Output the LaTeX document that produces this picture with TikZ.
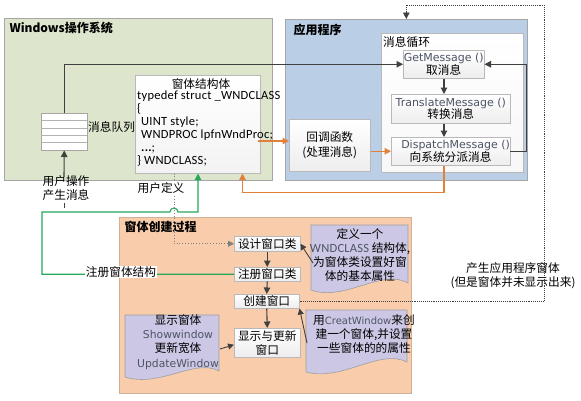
\documentclass[tikz,border=0pt]{standalone}
\usepackage{fontspec}
\setmainfont{Noto Sans CJK SC}
\newfontfamily\latf{DejaVu Sans}
\newfontfamily\calf[LetterSpace=2]{Carlito}
\usetikzlibrary{arrows.meta}
\definecolor{wingreen}{RGB}{221,229,205}
\definecolor{appblue}{RGB}{186,206,229}
\definecolor{creorange}{RGB}{249,205,172}
\definecolor{calloutc}{RGB}{203,199,228}
\definecolor{arrgray}{RGB}{64,64,64}
\definecolor{orangeln}{RGB}{226,128,58}
\definecolor{greenln}{RGB}{38,168,90}
\definecolor{latc}{RGB}{78,84,102}
\newcommand\latword[2][11]{{\latf\fontsize{#1}{12}\selectfont\color{latc}#2}}
\newcommand\calword[1]{{\calf\fontsize{12.5}{13}\selectfont\color{latc}#1}}
\tikzset{
  panel/.style={draw=gray!70, line width=0.6pt, anchor=north west, inner sep=0pt},
  gradbox/.style={draw=gray!55, line width=0.5pt, top color=white, bottom color=gray!14, anchor=north west, inner sep=0pt, align=center},
  whitebox/.style={draw=gray!55, line width=0.5pt, fill=white, anchor=north west, inner sep=0pt},
  darr/.style={draw=arrgray, line width=1.1pt, -{Triangle[length=6.5pt,width=6.5pt]}},
  carr/.style={draw=arrgray, line width=0.9pt, -{Triangle[length=6pt,width=6pt]}},
  oarr/.style={draw=orangeln, line width=1.1pt, -{Triangle[length=6.5pt,width=6.5pt]}},
  garr/.style={draw=greenln, line width=1.1pt, -{Triangle[length=6.5pt,width=6.5pt]}},
  dotarr/.style={draw=gray, line width=0.8pt, dotted, -{Triangle[length=6pt,width=6pt]}},
  bigdot/.style={draw=arrgray, line width=0.9pt, densely dotted, -{Triangle[length=6.5pt,width=6.5pt]}},
  docst/.style={draw=gray!75, line width=0.6pt, fill=calloutc},
  title/.style={anchor=west, font=\fontsize{12}{14}\selectfont\bfseries},
}
\begin{document}
\begin{tikzpicture}[x=1pt,y=-1pt, font=\fontsize{11.7}{14.2}\selectfont]
\path[use as bounding box, fill=white] (0,0) rectangle (581,400);

% panels
\node[panel, fill=wingreen, minimum width=268, minimum height=162] (winpanel) at (4,18) {};
\node[panel, fill=appblue, minimum width=242, minimum height=161] (apppanel) at (285,19) {};
\node[panel, draw=orange!35!gray!60, fill=creorange, minimum width=292, minimum height=176] (crepanel) at (119,217) {};

\node[title] (wintitle) at (6,28) {Windows操作系统};
\node[title] (apptitle) at (290,30) {应用程序};
\node[title] (cretitle) at (121,227) {窗体创建过程};

% message loop
\node[whitebox, top color=white, bottom color=gray!6, minimum width=142, minimum height=139] (loop) at (381,33) {};
\node[anchor=west, inner sep=0pt] (looptitle) at (383,42) {消息循环};
\node[gradbox, minimum width=81, minimum height=28] (get) at (403,50) {\latword{GetMessage ()}\\[-2pt]取消息};
\node[gradbox, minimum width=119, minimum height=29] (trans) at (391,94) {\latword{TranslateMessage ()}\\[-2pt]转换消息};
\node[gradbox, minimum width=104, minimum height=28] (dispatch) at (391,137) {\hspace*{10pt}\latword{DispatchMessage ()}\\[-2pt]向系统分派消息};
\node[gradbox, minimum width=81, minimum height=52] (callback) at (289,119) {回调函数\\(处理消息)};

% struct
\node[gradbox, top color=white, bottom color=gray!10, minimum width=125, minimum height=98] (struct) at (135,75) {};
\node[inner sep=0pt] (structtitle) at (201,84) {窗体结构体};
\node[anchor=north west, inner sep=0pt, align=left, font=\calf\fontsize{12.5}{13}\selectfont] (structbody) at (137,91)
  {typedef struct \_WNDCLASS\\\{\\\hspace*{4pt}UINT style;\\\hspace*{4pt}WNDPROC lpfnWndProc;\\\hspace*{4pt}{\bfseries ...};\\\} WNDCLASS;};

% queue
\node[whitebox, draw=gray!70, minimum width=46, minimum height=37] (queue) at (41,113) {};
\foreach \yy in {120.4,127.8,135.2,142.6} \draw[gray!60, line width=0.5pt] (41,\yy) -- (87,\yy);
\node[anchor=west, inner sep=0pt] (queuelabel) at (88,127) {消息队列};
\node[align=center, inner sep=0pt] (userop) at (66,188) {用户操作\\产生消息};
\draw[arrgray, line width=0.8pt] (64,203) -- (64,208);
\coordinate (uopstart) at (64,177);

% creation steps
\node[gradbox, minimum width=66, minimum height=15] (design) at (234,236) {设计窗口类};
\node[gradbox, minimum width=66, minimum height=14] (reg) at (234,267) {注册窗口类};
\node[gradbox, minimum width=65, minimum height=14] (create) at (234,294) {创建窗口};
\node[gradbox, minimum width=66, minimum height=29] (show) at (234,328) {显示与更新\\窗口};

% callouts
\draw[docst] (311,225) -- (408,225) -- (408,283) .. controls (382,268) and (345,302) .. (311,290) -- cycle;
\node[align=center, inner sep=0pt] (doc1t) at (360,255) {定义一个\\\calword{WNDCLASS} 结构体,\\为窗体类设置好窗\\体的基本属性};
\draw[docst] (306,310) -- (407,310) -- (407,362) .. controls (380,348) and (342,382) .. (306,372) -- cycle;
\node[align=center, inner sep=0pt] (doc2t) at (364,334) {用\latword[10]{CreatWindow}来创\\建一个窗体,并设置\\一些窗体的的属性};
\draw[docst] (125,315) -- (219,315) -- (219,371) .. controls (195,358) and (160,388) .. (125,377) -- cycle;
\node[align=center, inner sep=0pt] (doc3t) at (178,342) {显示窗体\\\latword[10.8]{Showwindow}\\更新宽体\\\latword[10.8]{UpdateWindow}};

\coordinate (c1) at (313,263);
\coordinate (c2) at (307,343);
\coordinate (c3) at (220,349);

% connectors
\draw[darr] (queue.north) |- (get.west);
\draw[darr] (uopstart) -- (queue.south);
\draw[darr] (get.south -| 444,0) -- (trans.north -| 444,0);
\draw[darr] (trans.south -| 444,0) -- (dispatch.north -| 444,0);
\draw[darr] (dispatch.east) -- ++(16,0) |- (get.east);

\coordinate (lpfn) at (258,141);
\draw[oarr] (lpfn) -- (lpfn -| callback.west);
\draw[oarr] (callback.east |- dispatch.west) -- (dispatch.west);
\draw[oarr] (dispatch.south -| 444,0) |- ([xshift=-18pt,yshift=-19pt]struct.south east) -- ([xshift=-18pt]struct.south east);

\draw[garr] (reg.west) -| (42,212) -- (170,212) arc[start angle=180, end angle=360, radius=4] -- (198,212) -- ([xshift=63pt]struct.south west);
\draw[dotarr] ([xshift=39pt]struct.south west) |- (design.west);
\node[fill=white, inner sep=1pt] (userdef) at (161,188) {用户定义};
\node[fill=white, inner sep=1pt] (reglabel) at (121,272) {注册窗体结构};

\draw[bigdot] (create.east) -| (544,5) -| (apppanel.north);
\node[align=center, inner sep=0pt] (genlabel) at (513,276) {产生应用程序窗体\\(但是窗体并未显示出来)};

\draw[darr] (design.south) -- (reg.north);
\draw[darr] (reg.south) -- (create.north);
\draw[darr] (create.south) -- (show.north);

\draw[carr] (c1) -- (design.east);
\draw[carr] (c2) -- (create.south east);
\draw[carr] (c3) -- ([yshift=-2pt]show.west);
\end{tikzpicture}
\end{document}
